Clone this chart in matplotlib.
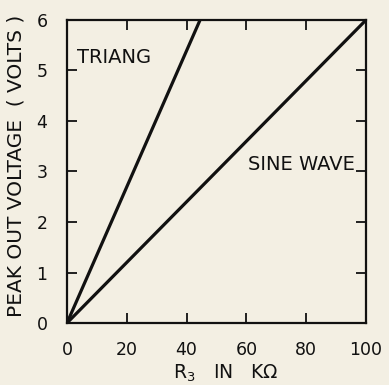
import matplotlib
matplotlib.use("Agg")
import matplotlib.pyplot as plt

# data
r3_kohm = [0, 100]
sine_volts = [0, 6]
triang_r3 = [0, 44.5]
triang_volts = [0, 6]

x_ticks = [0, 20, 40, 60, 80, 100]
y_ticks = [0, 1, 2, 3, 4, 5, 6]

paper = '#f3efe3'
ink = '#111111'

fig = plt.figure(figsize=(3.89, 3.85), dpi=100, facecolor=paper)
ax = fig.add_axes([67/389, 1 - 323/385, (366-67)/389, (323-20)/385])
ax.set_facecolor(paper)

ax.plot(r3_kohm, sine_volts, color=ink, lw=2.3, solid_capstyle='round')
ax.plot(triang_r3, triang_volts, color=ink, lw=2.3, solid_capstyle='round')

ax.set_xlim(0, 100)
ax.set_ylim(0, 6)
ax.set_xticks(x_ticks)
ax.set_yticks(y_ticks)
ax.tick_params(direction='in', length=7, width=1.3, top=True, right=True,
               labelsize=12.5, colors=ink)
ax.tick_params(axis='x', pad=13)
ax.tick_params(axis='y', pad=14)
for s in ax.spines.values():
    s.set_linewidth(1.6)
    s.set_color(ink)

ax.text(3.5, 5.25, 'TRIANG', fontsize=14, color=ink, va='center', ha='left')
ax.text(60.5, 3.13, 'SINE WAVE', fontsize=14, color=ink, va='center', ha='left')

ax.set_ylabel('PEAK OUT VOLTAGE  ( VOLTS )', fontsize=14.5, color=ink)
ax.set_xlabel('R$_3$   IN   K\u03a9', fontsize=13.5, color=ink)
ax.yaxis.set_label_coords(-41/299, 0.518)
ax.xaxis.set_label_coords(159/299, -40/303)

fig.savefig('out.png', dpi=100, facecolor=paper)
